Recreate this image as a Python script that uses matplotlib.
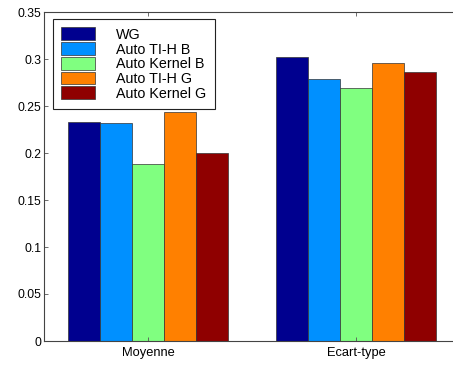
import numpy as np
import matplotlib
matplotlib.use("Agg")
import matplotlib.pyplot as plt

categories = ["Moyenne", "Ecart-type"]
series = ["WG", "Auto TI-H B", "Auto Kernel B", "Auto TI-H G", "Auto Kernel G"]
wg = [0.2335, 0.302]
ti_h_b = [0.232, 0.2785]
kernel_b = [0.188, 0.2695]
ti_h_g = [0.2435, 0.2955]
kernel_g = [0.2, 0.2865]
values = [wg, ti_h_b, kernel_b, ti_h_g, kernel_g]
colors = ["#00008f", "#0090ff", "#80ff80", "#ff8000", "#8f0000"]

plt.rcParams['font.family'] = ['Liberation Sans', 'DejaVu Sans']

fig = plt.figure(figsize=(4.53, 3.65), dpi=100)
ax = fig.add_axes([44/453, 24/365, 416/453, 329/365])

x = np.arange(1, len(categories) + 1)
w = 0.154
for i, (name, v) in enumerate(zip(series, values)):
    ax.bar(x + (i - 2) * w, v, w, color=colors[i], edgecolor="#333333",
           linewidth=0.5, label=name)

ax.set_xlim(0.5, 2.5)
ax.set_ylim(0, 0.35)
ax.set_xticks(x)
ax.set_xticklabels(categories, fontsize=9.3)
ax.set_yticks(np.arange(0, 0.351, 0.05))
ax.set_yticklabels(["0", "0.05", "0.1", "0.15", "0.2", "0.25", "0.3", "0.35"], fontsize=8.7)
ax.tick_params(direction="in", top=True, right=True, length=3, width=0.6,
               color="#555555", pad=2)
ax.tick_params(axis="x", pad=4)
for s in ax.spines.values():
    s.set_color("#444444")
    s.set_linewidth(0.8)

leg = ax.legend(loc="upper left", bbox_to_anchor=(0.021, 0.979), fontsize=10.3,
                handlelength=2.35, handleheight=1.0, handletextpad=1.45,
                labelspacing=0.03, borderpad=0.6, fancybox=False, framealpha=1,
                edgecolor="#222222", borderaxespad=0)
leg.get_frame().set_linewidth(0.8)

fig.savefig("out.png", dpi=100)
